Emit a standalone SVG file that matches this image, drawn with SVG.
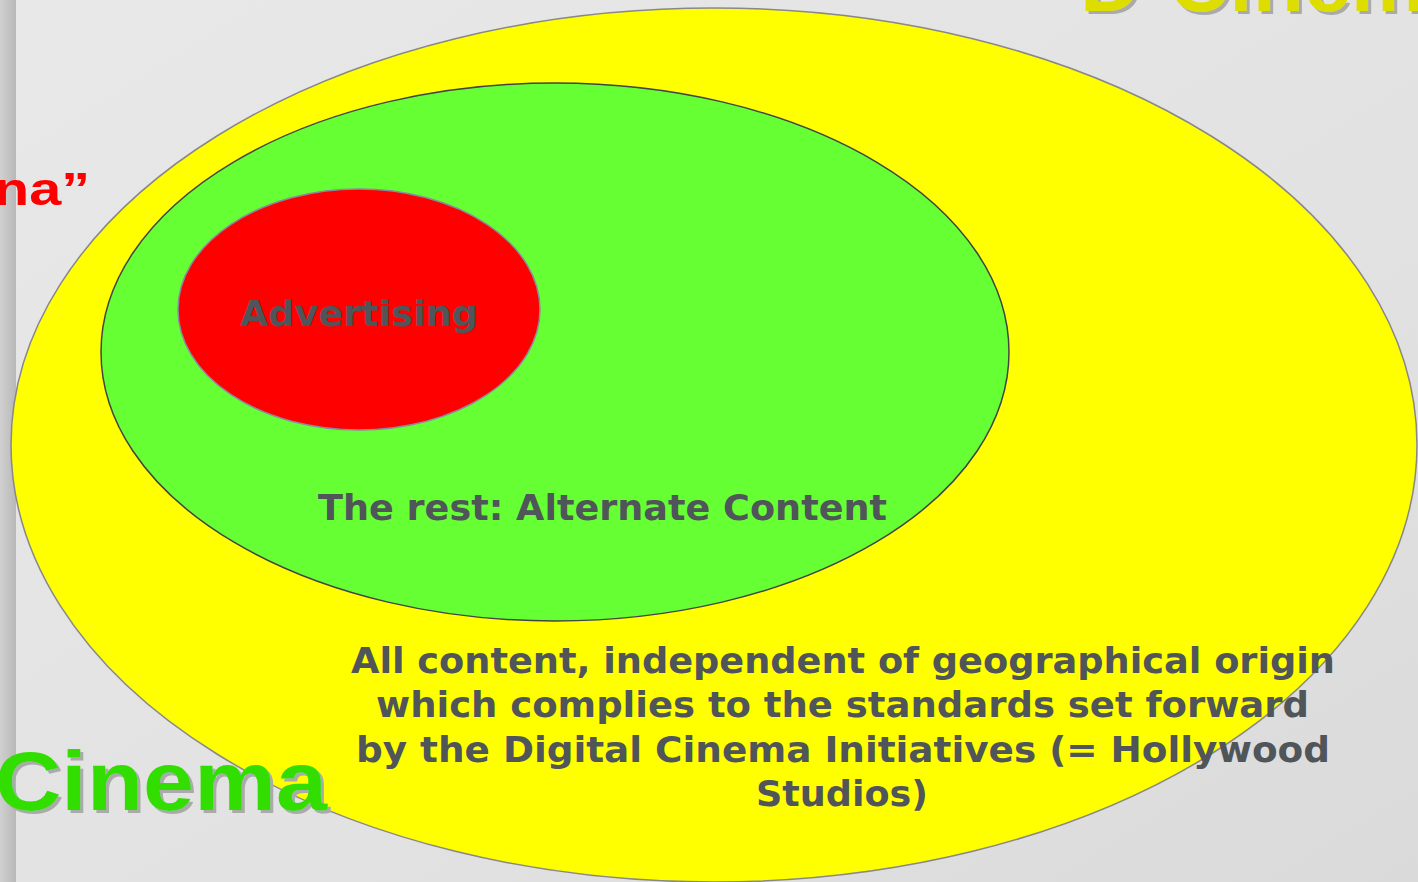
<svg xmlns="http://www.w3.org/2000/svg" width="1418" height="882" viewBox="0 0 1418 882">
<defs>
<linearGradient id="bg" x1="0" y1="0" x2="1" y2="1">
<stop offset="0" stop-color="#e8e8e8"/>
<stop offset="0.6" stop-color="#e2e2e2"/>
<stop offset="1" stop-color="#dadada"/>
</linearGradient>
<linearGradient id="strip" x1="0" y1="0" x2="1" y2="0">
<stop offset="0" stop-color="#d0d0d0"/>
<stop offset="1" stop-color="#b8b8b8"/>
</linearGradient>
<filter id="shadow" x="-10%" y="-10%" width="120%" height="130%">
<feOffset in="SourceAlpha" dx="3" dy="3" result="off"/>
<feFlood flood-color="#aaaaaa"/>
<feComposite in2="off" operator="in" result="sh"/>
<feMerge><feMergeNode in="sh"/><feMergeNode in="SourceGraphic"/></feMerge>
</filter>
<style>
.lbl{font-family:"DejaVu Sans",Verdana,sans-serif;font-weight:bold;fill:#4f5559;font-size:36px;text-anchor:middle}
.title{font-family:"Liberation Sans",Arial,sans-serif;font-weight:bold}
</style>
</defs>
<rect x="0" y="0" width="1418" height="882" fill="url(#bg)"/>
<rect x="0" y="0" width="16" height="882" fill="url(#strip)"/>
<g id="all-content">
<ellipse cx="714" cy="445" rx="703" ry="437" fill="#ffff00" stroke="#888888" stroke-width="1.5"/>
</g>
<g id="alternate-content">
<ellipse cx="555" cy="352" rx="454" ry="269" fill="#66ff33" stroke="#444444" stroke-width="1.5"/>
</g>
<g id="advertising">
<ellipse cx="359" cy="309.5" rx="181" ry="120.5" fill="#ff0000" stroke="#8a8aa0" stroke-width="1.5"/>
<text class="lbl" x="359" y="326" textLength="238" lengthAdjust="spacingAndGlyphs">Advertising</text>
</g>
<g id="labels">
<text class="lbl" x="602.5" y="520" textLength="569" lengthAdjust="spacingAndGlyphs">The rest: Alternate Content</text>
<text class="lbl" x="843" y="673" textLength="984" lengthAdjust="spacingAndGlyphs">All content, independent of geographical origin</text>
<text class="lbl" x="842.5" y="717" textLength="933" lengthAdjust="spacingAndGlyphs">which complies to the standards set forward</text>
<text class="lbl" x="843" y="762" textLength="974" lengthAdjust="spacingAndGlyphs">by the Digital Cinema Initiatives (= Hollywood</text>
<text class="lbl" x="842" y="806" textLength="172" lengthAdjust="spacingAndGlyphs">Studios)</text>
</g>
<g id="bg-titles">
<text class="title" x="1080" y="11" font-size="84" fill="#dddd00" filter="url(#shadow)">D-Cinema</text>
<text class="title" x="-6" y="205" font-size="46" fill="#ff0000" textLength="96" lengthAdjust="spacingAndGlyphs">na”</text>
<text class="title" x="-5" y="810" font-size="84" fill="#33dd00" textLength="332" lengthAdjust="spacingAndGlyphs" filter="url(#shadow)">Cinema</text>
</g>
<g id="connectors"/>
</svg>
